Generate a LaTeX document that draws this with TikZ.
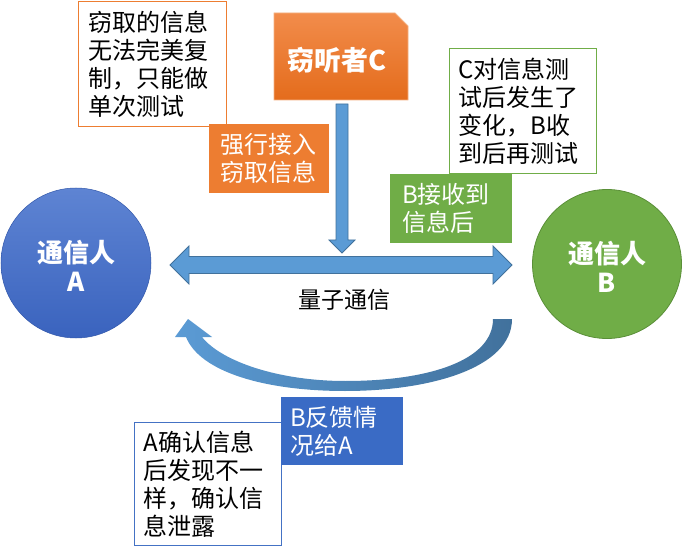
\documentclass[tikz,border=0pt]{standalone}
\usepackage{fontspec}
\setmainfont{Noto Sans CJK SC}
\definecolor{orgC}{HTML}{ED7D31}
\definecolor{orgTop}{HTML}{F28C4B}
\definecolor{orgBot}{HTML}{E46C1C}
\definecolor{orgEdge}{HTML}{F4B183}
\definecolor{grnC}{HTML}{70AD47}
\definecolor{grnEdge}{HTML}{5A8F38}
\definecolor{bluC}{HTML}{4472C4}
\definecolor{bluBox}{HTML}{3A6BC5}
\definecolor{arrFill}{HTML}{5B9BD5}
\definecolor{arrEdge}{HTML}{41719C}
\definecolor{cirTop}{HTML}{5E84D3}
\definecolor{cirBot}{HTML}{3A63BE}
\begin{document}
\begin{tikzpicture}[x=1pt,y=-1pt,
  boxtext/.style={font=\fontsize{24}{28}\selectfont, align=left},
  notebox/.style={draw=#1, line width=1pt, fill=white, anchor=north west, inner sep=0pt, boxtext},
  fillbox/.style={fill=#1, anchor=north west, inner sep=0pt, boxtext, text=white},
  cirtext/.style={font=\fontsize{26}{29}\selectfont\bfseries, align=center, text=white},
  blockarrow/.style={fill=arrFill, draw=arrEdge, line width=0.8pt}
]
\useasboundingbox (0,0) rectangle (683,548);

% circles
\node[circle, minimum size=150pt, inner sep=0pt, top color=cirTop, bottom color=cirBot, draw=cirBot!90!black, line width=0.5pt] (A) at (76,263) {};
\node[cirtext] (Atext) at (76,266) {通信人\\A};
\node[circle, minimum size=149pt, inner sep=0pt, fill=grnC, draw=grnEdge, line width=0.8pt] (B) at (607,264) {};
\node[cirtext] (Btext) at (607,267) {通信人\\B};

% eavesdropper box with snipped corner
\path[top color=orgTop, bottom color=orgBot, draw=orgEdge, line width=0.8pt]
  (274,13) -- (395,13) -- (408,26) -- (408,100) -- (274,100) -- cycle;
\node[font=\fontsize{27}{30}\selectfont\bfseries, text=white] (C) at (337,60) {窃听者C};

% down arrow from C
\path[blockarrow] (336,104) -- (348,104) -- (348,240) -- (355,240) -- (342,253) -- (329,240) -- (336,240) -- cycle;

% double arrow
\path[blockarrow] (170,265) -- (189,246) -- (189,256.5) -- (493,256.5) -- (493,246) -- (512,265)
  -- (493,284) -- (493,273.5) -- (189,273.5) -- (189,284) -- cycle;
\node[font=\fontsize{23}{26}\selectfont] (qc) at (344,300) {量子通信};

% curved feedback arrow
\path[left color=arrFill, right color=arrEdge]
  (512,319) .. controls (512,368) and (430,391) .. (345,391)
  .. controls (265,391) and (200,372) .. (186,337)
  -- (175,337) -- (188,319) -- (212,337) -- (202,337)
  .. controls (222,362) and (280,381) .. (345,381)
  .. controls (430,381) and (493,360) .. (493,319) -- cycle;

% note boxes
\node[notebox=orgC, minimum width=148pt, minimum height=125pt, text width=128pt] (n1) at (78,1)
  {窃取的信息\\无法完美复\\制，只能做\\单次测试};
\node[fillbox=orgC, minimum width=120pt, minimum height=69pt, text width=98pt] (f1) at (209,124)
  {强行接入\\窃取信息};
\node[notebox=grnC, minimum width=147pt, minimum height=125pt, text width=129pt] (n2) at (449,48)
  {C对信息测\\试后发生了\\变化，B收\\到后再测试};
\node[fillbox=grnC, minimum width=122pt, minimum height=69pt, text width=98pt] (f2) at (390,174)
  {B接收到\\信息后};
\node[notebox=bluC, minimum width=147pt, minimum height=123pt, text width=129pt] (n3) at (134,422)
  {A确认信息\\后发现不一\\样，确认信\\息泄露};
\node[fillbox=bluBox, minimum width=122pt, minimum height=68pt, text width=104pt] (f3) at (281,397)
  {B反馈情\\况给A};
\end{tikzpicture}
\end{document}
